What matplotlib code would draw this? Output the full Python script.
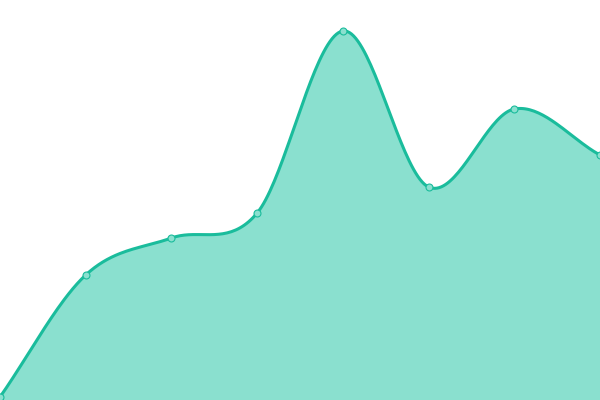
import numpy as np
import matplotlib
matplotlib.use('Agg')
import matplotlib.pyplot as plt

# values (height above the bottom edge, pixels of a 400 high chart)
x = [0, 1, 2, 3, 4, 5, 6, 7]
values = [3, 125, 162, 187, 369, 213, 291, 245]

line_color = '#1abc9c'
fill_color = '#8ae0cf'


def cardinal(xs, ys, steps=40):
    '''Catmull-Rom style smoothing through the points, endpoints repeated.'''
    xs = np.asarray(xs, float)
    ys = np.asarray(ys, float)
    n = len(xs)
    m = np.zeros(n)
    for i in range(n):
        lo = max(i - 1, 0)
        hi = min(i + 1, n - 1)
        m[i] = (ys[hi] - ys[lo]) / (xs[hi] - xs[lo])
    out_x, out_y = [], []
    for i in range(n - 1):
        h = xs[i + 1] - xs[i]
        t = np.linspace(0, 1, steps, endpoint=(i == n - 2))
        h00 = 2 * t**3 - 3 * t**2 + 1
        h10 = t**3 - 2 * t**2 + t
        h01 = -2 * t**3 + 3 * t**2
        h11 = t**3 - t**2
        out_x.extend(xs[i] + t * h)
        out_y.extend(h00 * ys[i] + h10 * h * m[i] + h01 * ys[i + 1] + h11 * h * m[i + 1])
    return np.array(out_x), np.array(out_y)


sx, sy = cardinal(x, values)

fig = plt.figure(figsize=(6, 4), dpi=100)
ax = fig.add_axes([0, 0, 1, 1])
ax.fill_between(sx, 0, sy, color=fill_color, lw=0)
ax.plot(sx, sy, color=line_color, lw=2.2, solid_capstyle='round')
ax.plot(x, values, 'o', ms=5, mfc=fill_color, mec=line_color, mew=0.8, clip_on=False)
ax.set_xlim(0, 7)
ax.set_ylim(0, 400)
ax.axis('off')
fig.savefig('out.png', dpi=100)
